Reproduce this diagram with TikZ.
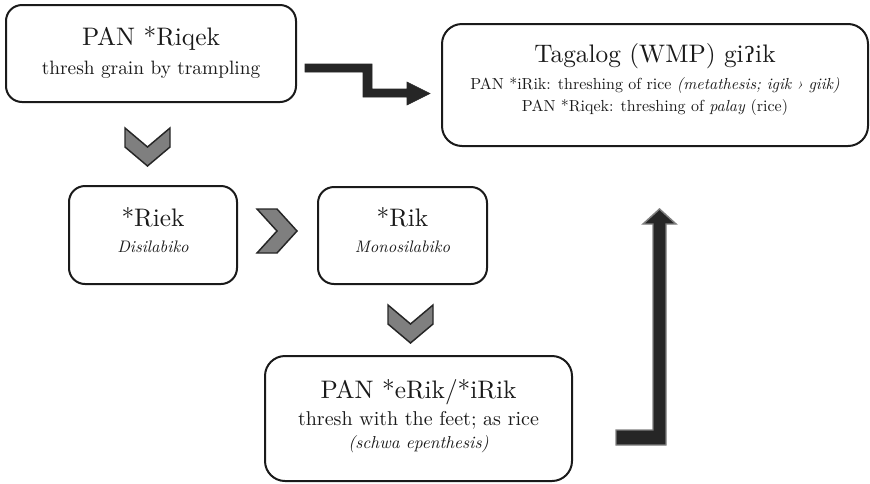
\documentclass[tikz,border=0pt]{standalone}
\usepackage{fontspec}
\setmainfont{lmroman10-regular.otf}[ItalicFont=lmroman10-italic.otf]
\newfontfamily\ipafont{DejaVu Serif}
\definecolor{ink}{HTML}{1A1A1A}
\definecolor{chevfill}{HTML}{7F7F7F}
\definecolor{arrowdark}{HTML}{262626}
\definecolor{arrowedge}{HTML}{7F7F7F}
\tikzset{
  card/.style={draw=ink, line width=1.5pt, fill=white, rounded corners=#1, inner sep=0pt},
  txt/.style={anchor=base, inner sep=0pt, text=ink},
  title/.style={txt, font=\fontsize{19}{22}\selectfont},
  sub/.style={txt, font=\fontsize{14.5}{16}\selectfont},
  note/.style={txt, font=\fontsize{12}{14}\selectfont},
  tag/.style={txt, font=\fontsize{12.5}{14}\selectfont\itshape},
  chev/.style={fill=chevfill, draw=arrowdark, line width=1.1pt, line join=miter},
  zarrow/.style={fill=arrowdark, draw=arrowdark, line width=0.4pt, line join=miter},
  bigarrow/.style={fill=arrowdark, draw=arrowedge, line width=1.1pt, line join=miter}
}
\begin{document}
\begin{tikzpicture}[x=0.75pt,y=-0.75pt]
\useasboundingbox (0,0) rectangle (870,483);

% boxes
\node[card=12pt, minimum width=217.5pt, minimum height=72.75pt] (riqek) at (151,53.5) {};
\node[card=15pt, minimum width=319.5pt, minimum height=91.5pt] (tagalog) at (655,85) {};
\node[card=12pt, minimum width=126pt, minimum height=73.5pt] (riek) at (153,235) {};
\node[card=12pt, minimum width=126.75pt, minimum height=72.75pt] (rik) at (402.5,235.5) {};
\node[card=15pt, minimum width=230.25pt, minimum height=93.75pt] (erik) at (418.5,418.5) {};

% texts
\node[title] (riqekT) at (151,45.5) {PAN *Riqek};
\node[sub] (riqekS) at (151,74) {thresh grain by trampling};

\node[title] (tagT) at (655,62) {Tagalog (WMP) gi{\ipafont\fontsize{16}{18}\selectfont ʔ}ik};
\node[note] (tagA) at (655,89) {PAN *iRik: threshing of rice \textit{(metathesis; igik › giik)}};
\node[note] (tagB) at (655,111) {PAN *Riqek: threshing of \textit{palay} (rice)};

\node[title] (riekT) at (153,226.5) {*Riek};
\node[tag] (riekS) at (153,252.5) {Disilabiko};

\node[title] (rikT) at (402.5,226.5) {*Rik};
\node[tag] (rikS) at (402.5,252.5) {Monosilabiko};

\node[title] (erikT) at (418.5,398) {PAN *eRik/*iRik};
\node[txt, font=\fontsize{15}{17}\selectfont] (erikS) at (418.5,425) {thresh with the feet; as rice};
\node[txt, font=\fontsize{13}{15}\selectfont\itshape] (erikN) at (418.5,448) {(schwa epenthesis)};

% chevrons
\path[chev] (125,128) -- (147.5,147) -- (170,128) -- (170,147) -- (147.5,166) -- (125,147) -- cycle;
\path[chev] (257,209) -- (277,209) -- (297,231) -- (277,253) -- (257,253) -- (277,231) -- cycle;
\path[chev] (388,305) -- (410.5,324) -- (433,305) -- (433,324) -- (410.5,343) -- (388,324) -- cycle;

% stepped arrow into the Tagalog box
\path[zarrow] (305,64) -- (372,64) -- (372,89) -- (407,89) -- (407,82) -- (430,93.5)
  -- (407,105) -- (407,97) -- (363,97) -- (363,72) -- (305,72) -- cycle;

% bent arrow rising towards the Tagalog box
\path[bigarrow] (653,224) -- (643,224) -- (659.5,209) -- (676,224) -- (666,224)
  -- (666,445) -- (616,445) -- (616,430) -- (653,430) -- cycle;
\end{tikzpicture}
\end{document}
